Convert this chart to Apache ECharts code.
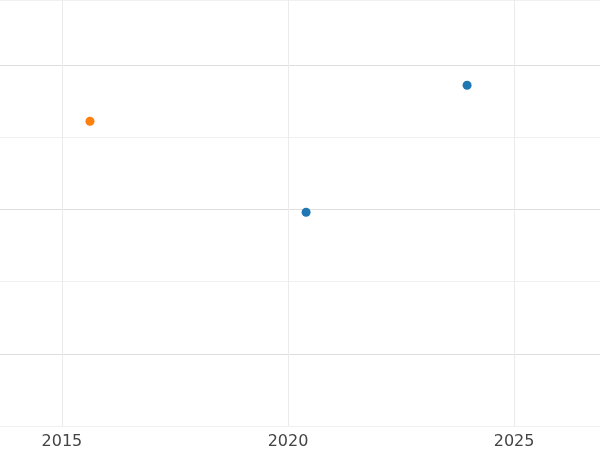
<!DOCTYPE html>
<html><head><meta charset="utf-8">
<script src="https://cdn.jsdelivr.net/npm/echarts@6/dist/echarts.min.js"></script>
<style>html,body{margin:0;padding:0;background:#fff}#c{width:600px;height:450px}</style>
</head><body><div id="c"></div>
<script>
const xTicks = [2015, 2020, 2025];
const blueYears = [2020.4, 2023.96];
const blueValues = [0.98, 1.86];
const orangeYears = [2015.62];
const orangeValues = [1.61];
const chart = echarts.init(document.getElementById('c'));
chart.setOption({
  animation: false,
  grid: {left: 0, right: 0, top: 0, bottom: 22.5, containLabel: false},
  xAxis: {type: 'value', min: 2013.63, max: 2026.9,
    axisLine: {show: false}, axisTick: {show: false},
    axisLabel: {color: '#444', fontSize: 16, margin: 8, fontFamily: 'DejaVu Sans',
      customValues: xTicks, formatter: v => String(v)},
    splitLine: {show: false}},
  yAxis: {type: 'value', min: -0.5, max: 2.45, interval: 0.5,
    axisLine: {show: false}, axisTick: {show: false}, axisLabel: {show: false},
    splitLine: {show: true, lineStyle: {color: ['#f0f0f0', '#dedede'], width: 1}}},
  series: [
    {type: 'scatter', symbolSize: 9, itemStyle: {color: '#1f77b4', opacity: 1},
      data: blueYears.map((x, i) => [x, blueValues[i]]),
      markLine: {silent: true, symbol: 'none', label: {show: false},
        lineStyle: {color: '#ebebeb', width: 1, type: 'solid'},
        data: xTicks.map(t => ({xAxis: t}))}},
    {type: 'scatter', symbolSize: 9, itemStyle: {color: '#ff7f0e', opacity: 1},
      data: orangeYears.map((x, i) => [x, orangeValues[i]])}
  ]
});
</script></body></html>
